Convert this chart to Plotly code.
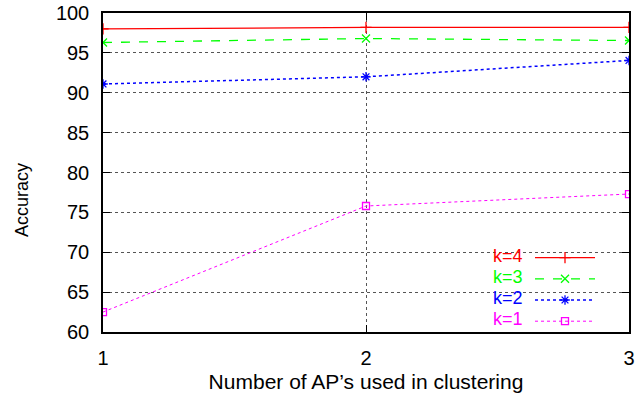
import plotly.graph_objects as go

x_vals = [1, 2, 3]
k4 = [98.0, 98.2, 98.2]
k3 = [96.3, 96.8, 96.55]
k2 = [91.1, 92.0, 94.05]
k1 = [62.5, 75.8, 77.3]
series_names = ["k=4", "k=3", "k=2", "k=1"]
y_ticks = [60, 65, 70, 75, 80, 85, 90, 95, 100]
x_ticks = [1, 2, 3]

colors = ["#ff0000", "#00ff00", "#0000ff", "#ff00ff"]
dashes = ["solid", "dash", "dot", "dot"]
symbols = ["cross-thin-open", "x-thin-open", "asterisk-open", "square-open"]
widths = [1.3, 1.3, 1.5, 1.0]
msizes = [8, 8, 8, 7]

fig = go.Figure()
for name, ys, c, d, s, w, ms in zip(series_names, [k4, k3, k2, k1], colors, dashes, symbols, widths, msizes):
    fig.add_trace(go.Scatter(
        x=x_vals, y=ys, mode="lines+markers", name=" ",
        line=dict(color=c, dash=d, width=w),
        marker=dict(symbol=s, size=ms, color=c, line=dict(color=c, width=1.3)),
    ))

font_family = "Liberation Sans, Arial, Helvetica, sans-serif"

annotations = []
for i, (name, c) in enumerate(zip(series_names, colors)):
    annotations.append(dict(
        xref="paper", yref="paper", x=(524 - 103) / 526, y=(332 - (256 + 21 * i)) / 319,
        text=name, showarrow=False, xanchor="right", yanchor="middle",
        font=dict(family=font_family, size=18, color=c), borderpad=0,
    ))
annotations.append(dict(
    xref="paper", yref="paper", x=(22 - 103) / 526, y=(332 - 200) / 319,
    text="Accuracy", textangle=-90, showarrow=False, xanchor="center", yanchor="middle",
    font=dict(family=font_family, size=18, color="black"),
))

fig.update_layout(
    width=639, height=393,
    margin=dict(l=103, r=10, t=13, b=61),
    paper_bgcolor="white", plot_bgcolor="white",
    font=dict(family=font_family, size=20, color="black"),
    showlegend=True,
    legend=dict(
        x=(530 - 103) / 526, y=(332 - 242) / 319, xanchor="left", yanchor="top",
        bgcolor="rgba(0,0,0,0)", font=dict(size=14), tracegroupgap=0,
        itemwidth=60,
    ),
    annotations=annotations,
    xaxis=dict(
        range=[1, 3], tickvals=x_ticks, ticktext=[str(v) for v in x_ticks],
        showgrid=True, gridcolor="#555555", griddash="dot", gridwidth=1,
        showline=True, linecolor="black", linewidth=1.5, mirror="ticks",
        ticks="inside", ticklen=7, tickcolor="black",
        ticklabelstandoff=7, zeroline=False, automargin=False,
        title=dict(text="Number of AP\u2019s used in clustering", font=dict(size=21), standoff=8),
    ),
    yaxis=dict(
        range=[60, 100], tickvals=y_ticks, ticktext=[str(v) for v in y_ticks],
        showgrid=True, gridcolor="#555555", griddash="dot", gridwidth=1,
        showline=True, linecolor="black", linewidth=1.5, mirror="ticks",
        ticks="inside", ticklen=7, tickcolor="black",
        ticklabelstandoff=8, zeroline=False, automargin=False,
    ),
)

fig.write_html("out.html")
